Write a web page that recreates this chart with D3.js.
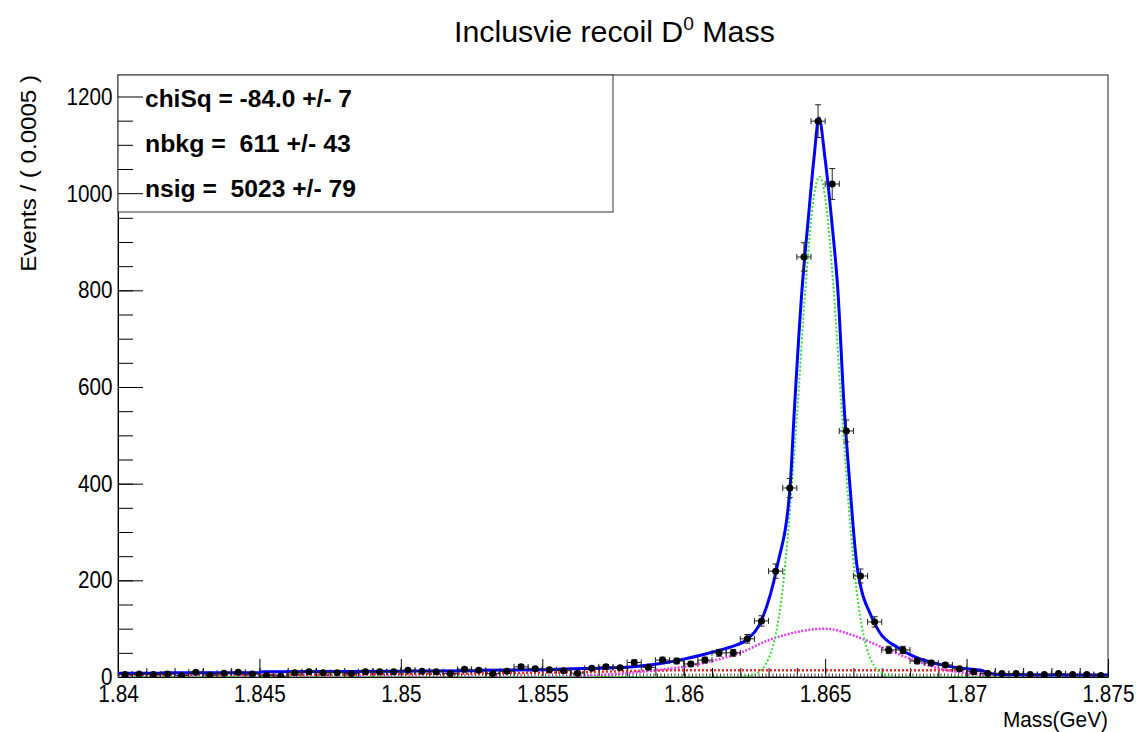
<!DOCTYPE html>
<meta charset="utf-8">
<script src="https://d3js.org/d3.v7.min.js"></script>
<style>
  body { margin: 0; background: #fff; }
  text { font-family: "Liberation Sans", Arial, sans-serif; }
</style>
<div id="chart"></div>
<script>
  // histogram: 70 bins of 0.0005 GeV starting at 1.84
  var massLow = 1.84, binWidth = 0.0005;
  var counts = [5, 6, 5, 6, 3, 10, 4, 8, 10, 6,
                3, 2, 9, 11, 9, 9, 7, 11, 11, 11,
                14, 12, 11, 7, 16, 14, 7, 12, 21, 17,
                15, 13, 8, 18, 21, 19, 30, 20, 35, 33,
                27, 35, 50, 50, 79, 116, 219, 391, 869, 1150,
                1020, 509, 209, 114, 56, 56, 33, 29, 25, 17,
                11, 7, 7, 7, 5, 5, 7, 5, 5, 3];

  // total fit (blue)
  var totalMass = [1.8400, 1.8415, 1.8416, 1.8450, 1.8451, 1.8500, 1.8528, 1.8529, 1.8550, 1.8560,
                   1.8570, 1.8582, 1.8594, 1.8600, 1.8606, 1.8613, 1.8617, 1.8622, 1.86277, 1.8633,
                   1.86376, 1.8639, 1.86418, 1.86439, 1.86461, 1.86478, 1.86499, 1.86524, 1.86545, 1.86567,
                   1.86588, 1.86613, 1.86666, 1.86694, 1.86754, 1.86811, 1.86871, 1.86931, 1.87001, 1.8705,
                   1.8708, 1.8712, 1.8750];
  var totalVal  = [8, 8, 9, 9, 11, 12, 13, 14, 15, 17,
                   18, 21, 30, 37, 45, 56, 63, 76, 120, 228,
                   393, 540, 800, 939, 1076, 1157, 1076, 939, 800, 560,
                   393, 228, 122, 91, 62, 43, 31, 23, 17, 14,
                   8, 5, 4];

  // signal component (green dotted)
  var sigMass = [1.8400, 1.8620, 1.8625, 1.8630, 1.8635, 1.8640, 1.8643, 1.8646, 1.8648, 1.8650,
                 1.8653, 1.8656, 1.8661, 1.8666, 1.8671, 1.8676, 1.8750];
  var sigVal  = [0, 0, 5, 38, 184, 539, 802, 993, 1035, 993,
                 802, 539, 184, 38, 5, 0, 0];

  // broad peaking component (magenta dotted)
  var peakMass = [1.8400, 1.8550, 1.8560, 1.8570, 1.8580, 1.8590, 1.8600, 1.8610, 1.8620, 1.8630,
                  1.8640, 1.8650, 1.8660, 1.8670, 1.8680, 1.8690, 1.8700, 1.8710, 1.8720, 1.8750];
  var peakVal  = [0, 0, 1, 4, 8, 14, 21, 33, 50, 76,
                  93, 100, 86, 62, 38, 18, 8, 3, 0, 0];

  // flat background (red dotted)
  var bkgMass = [1.8400, 1.8450, 1.8500, 1.8550, 1.8580, 1.8600, 1.8705, 1.8708, 1.8750];
  var bkgVal  = [3, 4, 6, 9, 12, 14, 14, 3, 2];

  // baseline component (black dotted)
  var baseMass = [1.8400, 1.8750];
  var baseVal  = [1, 1];

  var yTicks = [0, 200, 400, 600, 800, 1000, 1200];
  var xTicks = [1.84, 1.845, 1.85, 1.855, 1.86, 1.865, 1.87, 1.875];
  var xTickLabels = ["1.84", "1.845", "1.85", "1.855", "1.86", "1.865", "1.87", "1.875"];

  var W = 1140, H = 732;
  var pL = 118, pR = 1108, pT = 75, pB = 677;

  var svg = d3.select("#chart").append("svg")
    .attr("width", W).attr("height", H);

  var x = d3.scaleLinear().domain([1.84, 1.875]).range([pL, pR]);
  var y = d3.scaleLinear().domain([0, 1245.5]).range([pB, pT]);

  // squeeze a text node horizontally to a target width
  function squeeze(t, px, py, target) {
    var w = t.node().getBBox().width;
    t.attr("transform", "translate(" + px + "," + py + ") scale(" + (target / w) + ",1)");
  }

  svg.append("clipPath").attr("id", "plotclip")
    .append("rect").attr("x", pL).attr("y", pT)
    .attr("width", pR - pL).attr("height", pB - pT);

  // frame
  svg.append("rect")
    .attr("x", pL).attr("y", pT)
    .attr("width", pR - pL).attr("height", pB - pT)
    .attr("fill", "none").attr("stroke", "#222").attr("stroke-width", 1);

  // y axis, ticks pointing inwards
  var yMinor = d3.range(0, 1250, 50);
  svg.append("g")
    .attr("transform", "translate(" + pL + ",0)")
    .call(d3.axisLeft(y).tickValues(yMinor).tickSize(-15).tickSizeOuter(0).tickFormat(""))
    .call(function (g) { g.select(".domain").remove(); });
  var yAx = svg.append("g")
    .attr("transform", "translate(" + pL + ",0)")
    .call(d3.axisLeft(y).tickValues(yTicks).tickSize(-25).tickSizeOuter(0).tickPadding(6)
      .tickFormat(d3.format("d")));
  yAx.selectAll("text").attr("font-size", 23).attr("fill", "#000")
    .attr("font-family", "Liberation Sans, Arial, sans-serif")
    .attr("transform", "scale(0.9,1)");
  yAx.select(".domain").attr("stroke", "#000");

  // x axis
  var xMinor = d3.range(0, 36).map(function (i) { return 1.84 + i * 0.001; });
  svg.append("g")
    .attr("transform", "translate(0," + pB + ")")
    .call(d3.axisBottom(x).tickValues(xMinor).tickSize(-9).tickSizeOuter(0).tickFormat(""))
    .call(function (g) { g.select(".domain").remove(); });
  var xAx = svg.append("g")
    .attr("transform", "translate(0," + pB + ")")
    .call(d3.axisBottom(x).tickValues(xTicks).tickSize(-18).tickSizeOuter(0).tickPadding(9)
      .tickFormat(function (d, i) { return xTickLabels[i]; }));
  xAx.selectAll("text").attr("font-size", 23).attr("fill", "#000")
    .attr("font-family", "Liberation Sans, Arial, sans-serif")
    .attr("transform", "scale(0.9,1)");
  xAx.select(".domain").attr("stroke", "#000");

  // curves
  var plot = svg.append("g").attr("clip-path", "url(#plotclip)");

  function curve(ms, vs, color, width, dash) {
    var pts = ms.map(function (m, i) { return [m, vs[i]]; });
    plot.append("path")
      .datum(pts)
      .attr("fill", "none")
      .attr("stroke", color)
      .attr("stroke-width", width)
      .attr("stroke-dasharray", dash)
      .attr("d", d3.line()
        .x(function (d) { return x(d[0]); })
        .y(function (d) { return y(d[1]); })
        .curve(d3.curveMonotoneX));
  }

  curve(baseMass, baseVal, "#444", 6, "1,2.5");
  curve(bkgMass, bkgVal, "#ff2020", 2.5, "2,2");
  curve(peakMass, peakVal, "#e040f0", 2.5, "2,1.5");
  curve(sigMass, sigVal, "#30e030", 2, "2,2");
  curve(totalMass, totalVal, "#0000ff", 3, null);

  // data points with error bars
  var pts = plot.append("g").selectAll("g")
    .data(counts)
    .join("g");
  function cx(i) { return x(massLow + (i + 0.5) * binWidth); }
  pts.append("line")
    .attr("x1", function (d, i) { return x(massLow + i * binWidth); })
    .attr("x2", function (d, i) { return x(massLow + (i + 1) * binWidth); })
    .attr("y1", function (d) { return y(d); })
    .attr("y2", function (d) { return y(d); })
    .attr("stroke", "#222").attr("stroke-width", 1);
  pts.append("line")
    .attr("x1", function (d, i) { return cx(i); })
    .attr("x2", function (d, i) { return cx(i); })
    .attr("y1", function (d) { return y(d + Math.sqrt(d)); })
    .attr("y2", function (d) { return y(Math.max(0, d - Math.sqrt(d))); })
    .attr("stroke", "#222").attr("stroke-width", 1);
  // caps
  [-1, 1].forEach(function (s) {
    pts.append("line")
      .attr("x1", function (d, i) { return x(massLow + (i + 0.5 + s * 0.5) * binWidth); })
      .attr("x2", function (d, i) { return x(massLow + (i + 0.5 + s * 0.5) * binWidth); })
      .attr("y1", function (d) { return y(d) - 3; })
      .attr("y2", function (d) { return y(d) + 3; })
      .attr("stroke", "#222").attr("stroke-width", 1);
    pts.append("line")
      .attr("x1", function (d, i) { return cx(i) - 3; })
      .attr("x2", function (d, i) { return cx(i) + 3; })
      .attr("y1", function (d) { return y(Math.max(0, d + s * Math.sqrt(d))); })
      .attr("y2", function (d) { return y(Math.max(0, d + s * Math.sqrt(d))); })
      .attr("stroke", "#222").attr("stroke-width", 1);
  });
  pts.append("circle")
    .attr("cx", function (d, i) { return cx(i); })
    .attr("cy", function (d) { return y(d); })
    .attr("r", 3.5)
    .attr("fill", "#000");

  // legend box with fit results
  svg.append("rect")
    .attr("x", pL).attr("y", pT)
    .attr("width", 613 - pL).attr("height", 212 - pT)
    .attr("fill", "#fff").attr("stroke", "#333").attr("stroke-width", 1);
  // the y ticks show through the box edge in the reference
  [1000, 1200].forEach(function (v) {
    svg.append("line").attr("x1", pL).attr("x2", pL + 25)
      .attr("y1", y(v)).attr("y2", y(v)).attr("stroke", "#000");
  });
  [1050, 1100, 1150].forEach(function (v) {
    svg.append("line").attr("x1", pL).attr("x2", pL + 15)
      .attr("y1", y(v)).attr("y2", y(v)).attr("stroke", "#000");
  });
  var fitLines = ["chiSq = -84.0 +/- 7", "nbkg =  611 +/- 43", "nsig =  5023 +/- 79"];
  var fitWidths = [207, 206, 211];
  fitLines.forEach(function (s, i) {
    var t = svg.append("text")
      .attr("font-size", 24).attr("font-weight", "bold")
      .attr("xml:space", "preserve")
      .style("white-space", "pre")
      .text(s);
    squeeze(t, 145, 107 + i * 45, fitWidths[i]);
  });

  // title
  var title = svg.append("text").attr("font-size", 30).attr("fill", "#000");
  title.append("tspan").text("Inclusvie recoil D");
  title.append("tspan").attr("font-size", 19).attr("dy", -12).text("0");
  title.append("tspan").attr("dy", 12).text(" Mass");
  squeeze(title, 454, 42, 321);

  // axis titles
  var xt = svg.append("text").attr("font-size", 22).text("Mass(GeV)");
  squeeze(xt, 1003, 727, 105);

  var yt = svg.append("text").attr("font-size", 22).attr("text-anchor", "end")
    .text("Events / ( 0.0005 )");
  var yw = yt.node().getBBox().width;
  yt.attr("transform", "translate(36,75) rotate(-90) scale(" + (197 / yw) + ",1)");
</script>
